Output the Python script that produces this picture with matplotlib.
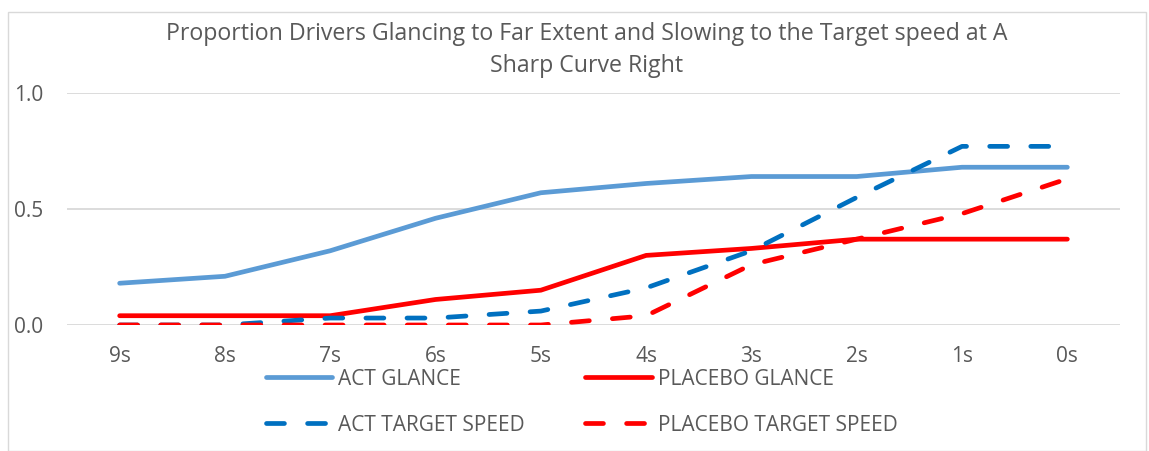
import matplotlib.pyplot as plt
from matplotlib.patches import Rectangle

categories = ["9s", "8s", "7s", "6s", "5s", "4s", "3s", "2s", "1s", "0s"]
act_glance = [0.18, 0.21, 0.32, 0.46, 0.57, 0.61, 0.64, 0.64, 0.68, 0.68]
placebo_glance = [0.04, 0.04, 0.04, 0.11, 0.15, 0.30, 0.33, 0.37, 0.37, 0.37]
act_target = [0.0, 0.0, 0.03, 0.03, 0.06, 0.16, 0.32, 0.55, 0.77, 0.77]
placebo_target = [0.0, 0.0, 0.0, 0.0, 0.0, 0.04, 0.26, 0.37, 0.48, 0.63]

plt.rcParams["font.family"] = ["Open Sans", "DejaVu Sans"]
text_color = "#595959"

fig = plt.figure(figsize=(11.49, 4.51), dpi=100)
ax = fig.add_axes([67 / 1149, 1 - 325 / 451, 1053 / 1149, 232 / 451])

x = range(len(categories))
lw = 3.4
l1, = ax.plot(x, act_glance, color="#5B9BD5", lw=lw, solid_capstyle="round",
              solid_joinstyle="round", label="ACT GLANCE", zorder=3)
l2, = ax.plot(x, placebo_glance, color="#FF0000", lw=lw, solid_capstyle="round",
              solid_joinstyle="round", label="PLACEBO GLANCE", zorder=3)
l3, = ax.plot(x, act_target, color="#0070C0", lw=lw, dashes=(3.8, 4.9),
              dash_capstyle="round", label="ACT TARGET SPEED", zorder=3)
l4, = ax.plot(x, placebo_target, color="#FF0000", lw=lw, dashes=(3.8, 4.9),
              dash_capstyle="round", label="PLACEBO TARGET SPEED", zorder=4)

ax.set_xlim(-0.5, len(categories) - 0.5)
ax.set_ylim(0, 1.0)
ax.set_yticks([0.0, 0.5, 1.0])
ax.set_yticklabels(["0.0", "0.5", "1.0"])
ax.set_xticks(list(x))
ax.set_xticklabels(categories)
ax.grid(axis="y", color="#D9D9D9", lw=1.3, zorder=0)
ax.set_axisbelow(True)
for s in ax.spines.values():
    s.set_visible(False)
ax.tick_params(length=0, labelsize=15, labelcolor=text_color)
ax.tick_params(axis="x", pad=15)
ax.tick_params(axis="y", pad=17)

fig.text(0.5 * (163 + 1010) / 1149, 1 - 50 / 451,
         "Proportion Drivers Glancing to Far Extent and Slowing to the Target speed at A\nSharp Curve Right",
         ha="center", va="center", fontsize=16.7, color=text_color, linespacing=1.45)

handles = [l1, l3, l2, l4]
fig.legend(handles, [h.get_label() for h in handles], loc="upper left",
           bbox_to_anchor=(247 / 1149, 1 - 350 / 451), ncol=2,
           frameon=False, fontsize=15, handlelength=3.2, handletextpad=0.28,
           columnspacing=2.9, labelspacing=1.2, labelcolor=text_color)

fig.patches.append(Rectangle((8 / 1149, 0), 1138 / 1149, 1 - 12 / 451,
                             transform=fig.transFigure, fill=False,
                             edgecolor="#D9D9D9", lw=1))

fig.savefig("out.png", dpi=100)
